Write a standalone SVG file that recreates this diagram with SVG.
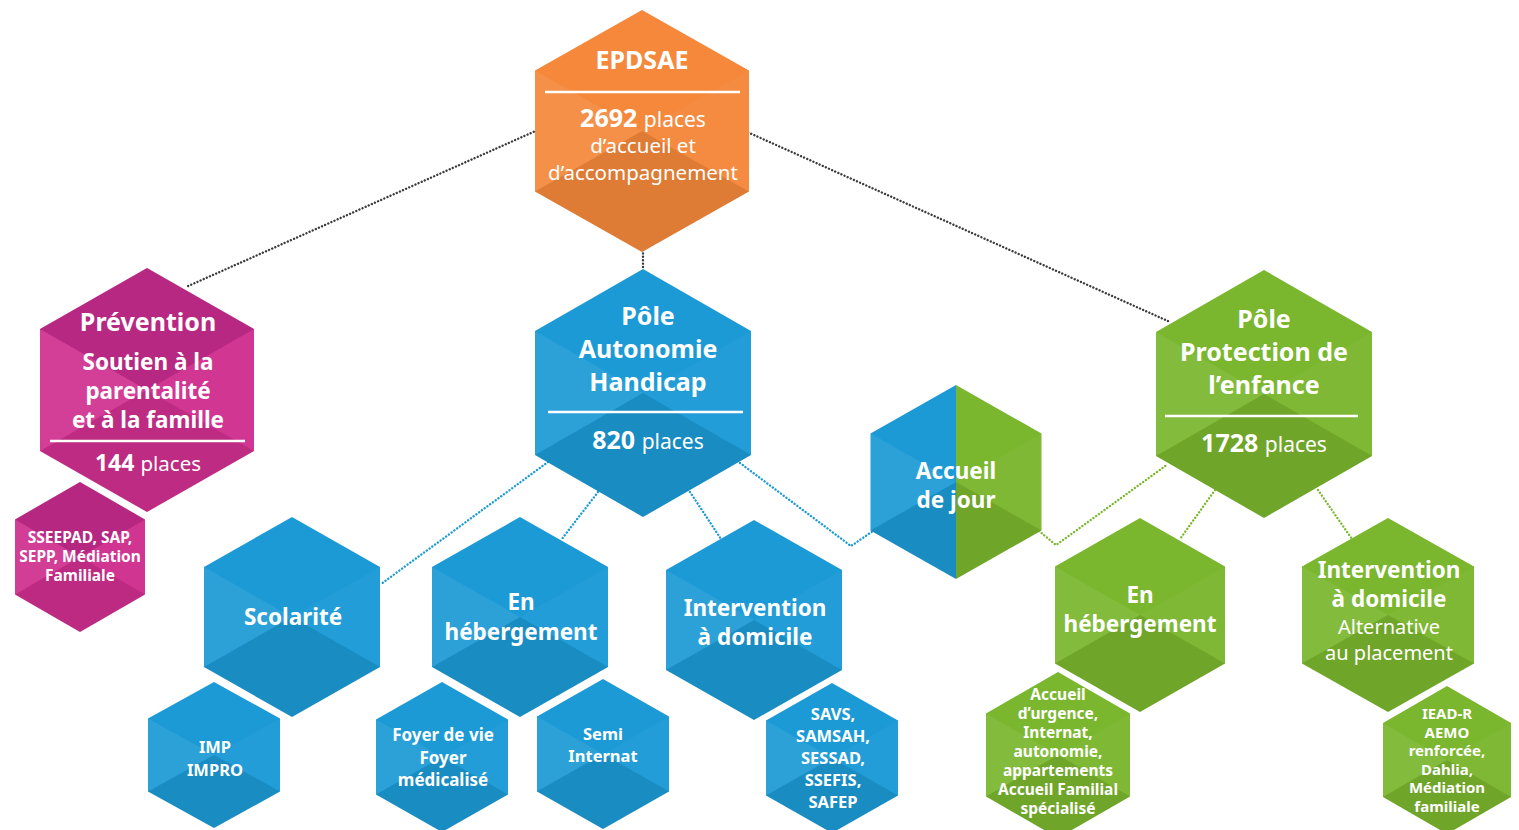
<svg xmlns="http://www.w3.org/2000/svg" xmlns:xlink="http://www.w3.org/1999/xlink" width="1519" height="830" viewBox="0 0 1519 830">
<style>
.lt{fill:#fff;opacity:.07}
.rt{fill:#fff;opacity:.03}
.dk{fill:#000;opacity:.09}
.tp{fill:#5a0f55;opacity:.22}
.c{fill:none;stroke-width:2.4;stroke-linecap:round;stroke-dasharray:0.01 3.4}
.ck{stroke:#3a3a3a}
.cb{stroke:#1C9AD6}
.cg{stroke:#7CB82F}
text{font-family:"Noto Sans","Open Sans","DejaVu Sans",sans-serif;fill:#fff;text-anchor:middle;font-weight:700}
.r{font-weight:400}
.sep{stroke:#fff;stroke-width:2.5}
</style>
<defs>
<g id="hxo">
<polygon class="lt" points="0,0 -1,-0.5 -1,0.5"/>
<polygon class="rt" points="0,0 1,-0.5 1,0.5"/>
<polygon class="dk" points="0,0 -1,0.5 0,1 1,0.5"/>
</g>
<g id="hx">
<polygon points="0,-1 1,-0.5 1,0.5 0,1 -1,0.5 -1,-0.5"/>
<use xlink:href="#hxo" href="#hxo"/>
</g>
<g id="hxm">
<polygon points="0,-1 1,-0.5 1,0.5 0,1 -1,0.5 -1,-0.5"/>
<polygon class="tp" points="0,0 -1,-0.5 0,-1 1,-0.5"/>
<use xlink:href="#hxo" href="#hxo"/>
</g>
</defs>
<rect width="1519" height="830" fill="#fff"/>

<g id="connectors">
<path class="c ck" d="M540,129 L186,287"/>
<path class="c ck" d="M745,131 L1170,322"/>
<path class="c ck" d="M643,250 L643,270"/>
<path class="c cb" d="M548,462 L381,584"/>
<path class="c cb" d="M598,492 L561,540"/>
<path class="c cb" d="M690,492 L721,539"/>
<path class="c cb" d="M740,463 L851,546 L873,531"/>
<path class="c cg" d="M1039,531 L1056,545 L1168,464"/>
<path class="c cg" d="M1215,490 L1180,539"/>
<path class="c cg" d="M1318,490 L1352,539"/>
</g>

<g id="epdsae">
<use xlink:href="#hx" href="#hx" fill="#F5883B" transform="translate(642,131) scale(107,121)"/>
<text x="642" y="69" font-size="25">EPDSAE</text>
<line class="sep" x1="545" y1="92" x2="740" y2="92"/>
<text x="643" y="127" font-size="25">2692 <tspan class="r" font-size="21">places</tspan></text>
<text class="r" x="643" y="153" font-size="20.5">d’accueil et</text>
<text class="r" x="643" y="180" font-size="20.5">d’accompagnement</text>
</g>

<g id="prevention">
<use xlink:href="#hxm" href="#hxm" fill="#D0308F" transform="translate(147,390) scale(107,122)"/>
<text x="148" y="331" font-size="25">Prévention</text>
<text x="148" y="370" font-size="22.5">Soutien à la</text>
<text x="148" y="399" font-size="22.5">parentalité</text>
<text x="148" y="428" font-size="22.5">et à la famille</text>
<line class="sep" x1="50" y1="441" x2="245" y2="441"/>
<text x="148" y="471" font-size="23">144 <tspan class="r" font-size="20.5">places</tspan></text>
</g>

<g id="sseepad">
<use xlink:href="#hxm" href="#hxm" fill="#CF2F8E" transform="translate(80,557) scale(65,75)"/>
<text x="80" y="543" font-size="15.5">SSEEPAD, SAP,</text>
<text x="80" y="562" font-size="15.5">SEPP, Médiation</text>
<text x="80" y="581" font-size="15.5">Familiale</text>
</g>

<g id="autonomie">
<use xlink:href="#hx" href="#hx" fill="#1C9AD6" transform="translate(643,393) scale(108,124)"/>
<text x="648" y="325" font-size="25">Pôle</text>
<text x="648" y="358" font-size="25">Autonomie</text>
<text x="648" y="391" font-size="25">Handicap</text>
<line class="sep" x1="548" y1="412" x2="743" y2="412"/>
<text x="648" y="449" font-size="25">820 <tspan class="r" font-size="21">places</tspan></text>
</g>

<g id="protection">
<use xlink:href="#hx" href="#hx" fill="#7AB62E" transform="translate(1264,394) scale(108,124)"/>
<text x="1264" y="328" font-size="25">Pôle</text>
<text x="1264" y="361" font-size="25">Protection de</text>
<text x="1264" y="394" font-size="25">l’enfance</text>
<line class="sep" x1="1165" y1="416" x2="1358" y2="416"/>
<text x="1264" y="452" font-size="25">1728 <tspan class="r" font-size="21">places</tspan></text>
</g>

<g id="accueil-jour">
<polygon fill="#1C9AD6" points="956,385 870.5,433.5 870.5,530.5 956,579"/>
<polygon fill="#7AB62E" points="956,385 1041.5,433.5 1041.5,530.5 956,579"/>
<use xlink:href="#hxo" href="#hxo" transform="translate(956,482) scale(85.5,97)"/>
<text x="956" y="479" font-size="22.5">Accueil</text>
<text x="956" y="508" font-size="22.5">de jour</text>
</g>

<g id="scolarite">
<use xlink:href="#hx" href="#hx" fill="#1C9AD6" transform="translate(292,617) scale(88,100)"/>
<text x="293" y="625" font-size="22.5">Scolarité</text>
</g>

<g id="hebergement-pah">
<use xlink:href="#hx" href="#hx" fill="#1C9AD6" transform="translate(520,617) scale(88,100)"/>
<text x="521" y="610" font-size="22.5">En</text>
<text x="521" y="640" font-size="22.5">hébergement</text>
</g>

<g id="intervention-pah">
<use xlink:href="#hx" href="#hx" fill="#1C9AD6" transform="translate(754,620) scale(88,100)"/>
<text x="755" y="616" font-size="22.5">Intervention</text>
<text x="755" y="645" font-size="22.5">à domicile</text>
</g>

<g id="hebergement-ppe">
<use xlink:href="#hx" href="#hx" fill="#7AB62E" transform="translate(1140,615) scale(85,97)"/>
<text x="1140" y="603" font-size="22.5">En</text>
<text x="1140" y="632" font-size="22.5">hébergement</text>
</g>

<g id="intervention-ppe">
<use xlink:href="#hx" href="#hx" fill="#7AB62E" transform="translate(1388,615) scale(86,97)"/>
<text x="1389" y="578" font-size="22.5">Intervention</text>
<text x="1389" y="607" font-size="22.5">à domicile</text>
<text class="r" x="1389" y="634" font-size="20">Alternative</text>
<text class="r" x="1389" y="660" font-size="20">au placement</text>
</g>

<g id="imp">
<use xlink:href="#hx" href="#hx" fill="#1C9AD6" transform="translate(214,755) scale(66,73)"/>
<text x="215" y="753" font-size="16.5">IMP</text>
<text x="215" y="776" font-size="16.5">IMPRO</text>
</g>

<g id="foyer">
<use xlink:href="#hx" href="#hx" fill="#1C9AD6" transform="translate(442,757) scale(66,75)"/>
<text x="443" y="741" font-size="17">Foyer de vie</text>
<text x="443" y="764" font-size="17">Foyer</text>
<text x="443" y="786" font-size="17">médicalisé</text>
</g>

<g id="semi-internat">
<use xlink:href="#hx" href="#hx" fill="#1C9AD6" transform="translate(603,754) scale(66,75)"/>
<text x="603" y="740" font-size="16.5">Semi</text>
<text x="603" y="762" font-size="16.5">Internat</text>
</g>

<g id="savs">
<use xlink:href="#hx" href="#hx" fill="#1C9AD6" transform="translate(832,758) scale(66,75)"/>
<text x="833" y="720" font-size="16.5">SAVS,</text>
<text x="833" y="742" font-size="16.5">SAMSAH,</text>
<text x="833" y="764" font-size="16.5">SESSAD,</text>
<text x="833" y="786" font-size="16.5">SSEFIS,</text>
<text x="833" y="808" font-size="16.5">SAFEP</text>
</g>

<g id="accueil-urgence">
<use xlink:href="#hx" href="#hx" fill="#7AB62E" transform="translate(1058,755) scale(72,83)"/>
<text x="1058" y="700" font-size="15.5">Accueil</text>
<text x="1058" y="719" font-size="15.5">d’urgence,</text>
<text x="1058" y="738" font-size="15.5">Internat,</text>
<text x="1058" y="757" font-size="15.5">autonomie,</text>
<text x="1058" y="776" font-size="15.5">appartements</text>
<text x="1058" y="795" font-size="15.5">Accueil Familial</text>
<text x="1058" y="814" font-size="15.5">spécialisé</text>
</g>

<g id="iead">
<use xlink:href="#hx" href="#hx" fill="#7AB62E" transform="translate(1447,760) scale(64,74)"/>
<text x="1447" y="719" font-size="15">IEAD-R</text>
<text x="1447" y="737.5" font-size="15">AEMO</text>
<text x="1447" y="756" font-size="15">renforcée,</text>
<text x="1447" y="774.5" font-size="15">Dahlia,</text>
<text x="1447" y="793" font-size="15">Médiation</text>
<text x="1447" y="811.5" font-size="15">familiale</text>
</g>
</svg>
